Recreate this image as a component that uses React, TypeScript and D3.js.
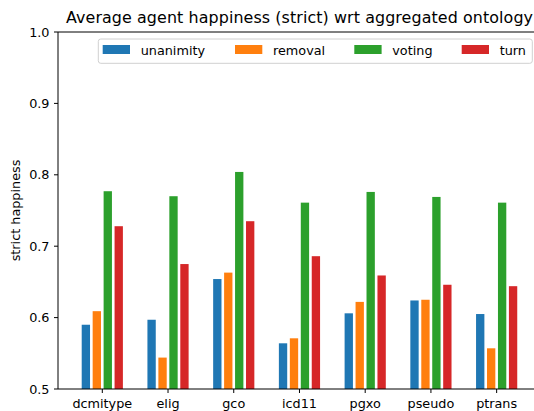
import React from "react";
import * as d3 from "d3";

const categories = ["dcmitype", "elig", "gco", "icd11", "pgxo", "pseudo", "ptrans"];
const seriesNames = ["unanimity", "removal", "voting", "turn"];
const unanimity = [0.590, 0.597, 0.654, 0.564, 0.606, 0.624, 0.605];
const removal = [0.609, 0.544, 0.663, 0.571, 0.622, 0.625, 0.557];
const voting = [0.777, 0.770, 0.804, 0.761, 0.776, 0.769, 0.761];
const turn = [0.728, 0.675, 0.735, 0.686, 0.659, 0.646, 0.644];
const yTicks = [0.5, 0.6, 0.7, 0.8, 0.9, 1.0];
const colors = ["#1f77b4", "#ff7f0e", "#2ca02c", "#d62728"];

const W = 534;
const H = 411;
const left = 58;
const right = 542;
const top = 32;
const bottom = 389;
const font = "DejaVu Sans, sans-serif";
const fs = 12.8;

export default function App() {
  const series = [unanimity, removal, voting, turn];
  const x = d3.scaleLinear().domain([-0.674, 6.69]).range([left, right]);
  const y = d3.scaleLinear().domain([0.5, 1.0]).range([bottom, top]);
  const pitch = 1 / 6;
  const barW = (x(pitch) - x(0)) * 0.76;
  const legendStarts = [102.7, 235, 354.3, 461.7];

  return (
    <svg width={W} height={H} style={{ position: "absolute", left: 0, top: 0, display: "block" }} fontFamily={font}>
      <rect x={0} y={0} width={W} height={H} fill="#fff" />
      <text x={66} y={23} textAnchor="start" fontSize={15.9} fill="#000" textLength={467} lengthAdjust="spacing">
        Average agent happiness (strict) wrt aggregated ontology
      </text>
      {series.map((vals, s) =>
        vals.map((v, i) => {
          const cx = x(i + (s - 1.5) * pitch);
          return (
            <rect key={`${s}-${i}`} x={cx - barW / 2} y={y(v)} width={barW} height={y(0.5) - y(v)} fill={colors[s]} />
          );
        })
      )}
      <line x1={left} x2={left} y1={top} y2={bottom} stroke="#000" strokeWidth={1} />
      <line x1={left} x2={right} y1={bottom} y2={bottom} stroke="#000" strokeWidth={1} />
      <line x1={left} x2={right} y1={top} y2={top} stroke="#000" strokeWidth={1} />
      {yTicks.map((t) => (
        <g key={t}>
          <line x1={left - 4} x2={left} y1={y(t)} y2={y(t)} stroke="#000" />
          <text x={49.5} y={y(t) + 4.6} textAnchor="end" fontSize={fs} fill="#000">
            {t.toFixed(1)}
          </text>
        </g>
      ))}
      {categories.map((c, i) => (
        <g key={c}>
          <line x1={x(i)} x2={x(i)} y1={bottom} y2={bottom + 4} stroke="#000" />
          <text x={x(i)} y={bottom + 19} textAnchor="middle" fontSize={fs} fill="#000">
            {c}
          </text>
        </g>
      ))}
      <text transform={`translate(20,${(top + bottom) / 2}) rotate(-90)`} textAnchor="middle" fontSize={fs} fill="#000">
        strict happiness
      </text>
      <rect x={98.3} y={39} width={434} height={24.3} rx={2.5} fill="#fff" fillOpacity={0.8} stroke="#d0d0d0" strokeWidth={1} />
      {seriesNames.map((n, s) => (
        <g key={n}>
          <rect x={legendStarts[s]} y={45} width={27.3} height={9} fill={colors[s]} />
          <text x={legendStarts[s] + 38} y={54.5} fontSize={fs} fill="#000">
            {n}
          </text>
        </g>
      ))}
    </svg>
  );
}
